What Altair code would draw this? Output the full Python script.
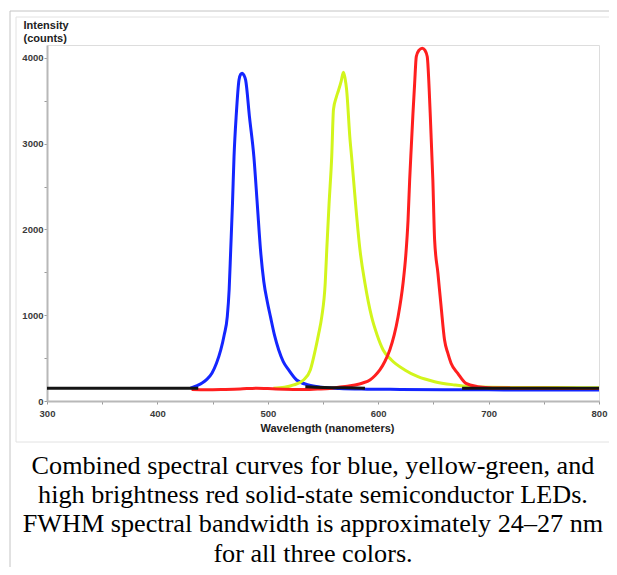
import altair as alt
import pandas as pd

# ---- data ----
blue_nm = [430, 436, 440.5, 445, 449.5, 453.5, 457.4, 460.5, 463.3, 465, 466.4, 468, 469.4, 471.5, 473.9,
           475.5, 476.8, 478.3, 479.9, 483.5, 487.4, 490.5, 493.4, 496.4, 499.5, 502.4, 506, 509.9, 514,
           518.9, 526.1, 536.9, 548.6, 565, 590, 620, 660, 700, 750, 800]
blue_counts = [150, 180, 210, 255, 327, 440, 595, 770, 983, 1300, 1761, 2300, 2846, 3350, 3743,
               3810, 3822, 3800, 3743, 3300, 2846, 2290, 1761, 1390, 1160, 983, 770, 595, 460,
               362, 245, 187, 160, 145, 138, 135, 132, 130, 128, 128]

yellow_nm = [505, 515, 523.4, 532.4, 538.5, 543, 546, 548.9, 552, 553.4, 555.5, 557.9, 559.5, 562, 564,
             566.5, 568.5, 570, 571.4, 574.5, 575.9, 579.5, 583.5, 588, 594, 599, 604.5, 612, 624.1,
             636, 651.1, 669.1, 681.1, 700, 730, 760, 800]
yellow_counts = [150, 160, 187, 245, 362, 595, 780, 983, 1373, 1761, 2300, 2849, 3400, 3540, 3620,
                 3730, 3833, 3760, 3627, 3044, 2849, 2300, 1761, 1373, 983, 770, 595, 478, 362,
                 283, 225, 187, 169, 160, 158, 157, 155]

red_nm = [431, 445, 460, 475, 490, 500, 515, 530, 545, 556, 564, 572, 579, 586, 592.5, 597, 601.5, 606,
          610.5, 614.5, 618, 622.5, 625, 627, 628.5, 630, 631.5, 633, 634.5, 637, 639.9, 642.3, 644.4,
          647.1, 649.5, 651.1, 654.1, 657, 660.1, 663, 666, 672.1, 679.5, 690.1, 700, 720, 750, 800]
red_counts = [135, 132, 135, 140, 150, 145, 138, 135, 140, 145, 160, 172, 187, 210, 245, 295, 362, 460,
              595, 770, 983, 1373, 1700, 2100, 2577, 2970, 3355, 3700, 4015, 4090, 4113, 4090, 4015,
              3355, 2577, 1878, 1489, 1100, 711, 560, 440, 323, 206, 167, 155, 150, 148, 145]

black_nm = [[300, 340, 380, 420, 437], [534, 550, 565, 580, 588], [676, 700, 730, 760, 800]]
black_counts = [[148, 150, 148, 150, 150], [165, 158, 155, 152, 150], [150, 148, 150, 148, 150]]

x_ticks = [300, 350, 400, 450, 500, 550, 600, 650, 700, 750, 800]
y_ticks = [0, 500, 1000, 1500, 2000, 2500, 3000, 3500, 4000]

caption = ["Combined spectral curves for blue, yellow-green, and",
           "high brightness red solid-state semiconductor LEDs.",
           "FWHM spectral bandwidth is approximately 24\u201327 nm",
           "for all three colors."]

series_names = ["blue", "yellow", "red", "black"]
series_colors = ["#1426ff", "#d2f51c", "#ff1f1f", "#141414"]

rows = []
for nm, c in zip(blue_nm, blue_counts):
    rows.append({"nm": nm, "counts": c, "series": "blue", "seg": "blue", "order": 0})
for nm, c in zip(yellow_nm, yellow_counts):
    rows.append({"nm": nm, "counts": c, "series": "yellow", "seg": "yellow", "order": 1})
for nm, c in zip(red_nm, red_counts):
    rows.append({"nm": nm, "counts": c, "series": "red", "seg": "red", "order": 2})
for i, (nms, cs) in enumerate(zip(black_nm, black_counts)):
    for nm, c in zip(nms, cs):
        rows.append({"nm": nm, "counts": c, "series": "black", "seg": f"black{i}", "order": 3})
df = pd.DataFrame(rows)

lines = alt.Chart(df).mark_line(strokeWidth=3, interpolate="monotone").encode(
    x=alt.X("nm:Q", scale=alt.Scale(domain=[300, 800], nice=False, zero=False),
            axis=alt.Axis(values=x_ticks, labelExpr="datum.value % 100 == 0 ? datum.label : ''",
                          title="Wavelength (nanometers)", titleX=280, titlePadding=5,
                          labelPadding=4, tickSize=3, labelFlush=False)),
    y=alt.Y("counts:Q", scale=alt.Scale(domain=[0, 4150], nice=False),
            axis=alt.Axis(values=y_ticks, labelExpr="datum.value % 1000 == 0 ? datum.label : ''",
                          format="d",
                          title=["Intensity", "(counts)"], titleAngle=0, titleAlign="left",
                          titleBaseline="top", titleX=-24, titleY=-26, titleLineHeight=13.5,
                          labelPadding=1, tickSize=3, labelFlush=False)),
    color=alt.Color("series:N", scale=alt.Scale(domain=series_names, range=series_colors), legend=None),
    detail="seg:N",
    order=alt.Order("order:Q"),
)

# decorative frame lines of the original figure (page furniture, not data)
deco = alt.Chart(pd.DataFrame({"k": [0]}))
frame_outer_top = deco.mark_rule(color="#c4c4c4", strokeWidth=1).encode(
    x=alt.value(-37), x2=alt.value(562), y=alt.value(-34))
frame_outer_left = deco.mark_rule(color="#c4c4c4", strokeWidth=1).encode(
    x=alt.value(-37), y=alt.value(-34), y2=alt.value(530))
frame_inner_top = deco.mark_rule(color="#e2e2e2", strokeWidth=1).encode(
    x=alt.value(-31), x2=alt.value(562), y=alt.value(-28))
frame_inner_left = deco.mark_rule(color="#e2e2e2", strokeWidth=1).encode(
    x=alt.value(-31), y=alt.value(-28), y2=alt.value(397))
frame_inner_bottom = deco.mark_rule(color="#e2e2e2", strokeWidth=1).encode(
    x=alt.value(-31), x2=alt.value(562), y=alt.value(397))

chart = alt.layer(
    frame_outer_top, frame_outer_left, frame_inner_top, frame_inner_left, frame_inner_bottom, lines
).properties(
    width=552,
    height=356,
    autosize=alt.AutoSizeParams(type="none"),
    padding={"left": 39, "top": 37, "right": 10, "bottom": 166},
    title=alt.TitleParams(text=caption, orient="bottom", anchor="middle", frame="group",
                          font="Liberation Serif", fontSize=26.2, fontWeight="normal", color="#000",
                          lineHeight=29.4, offset=-123, dx=-10),
).configure_view(stroke=None).configure(background="white").configure_axis(
    grid=False,
    domainColor="#b8b8b8", domainWidth=2,
    tickColor="#9a9a9a", tickWidth=1,
    labelFont="Liberation Sans", labelFontWeight="bold", labelFontSize=9.5, labelColor="#3a3a3a",
    titleFont="Liberation Sans", titleFontWeight="bold", titleFontSize=11, titleColor="#222",
)

chart.save("out.html", embed_options={"renderer": "svg", "actions": False})
